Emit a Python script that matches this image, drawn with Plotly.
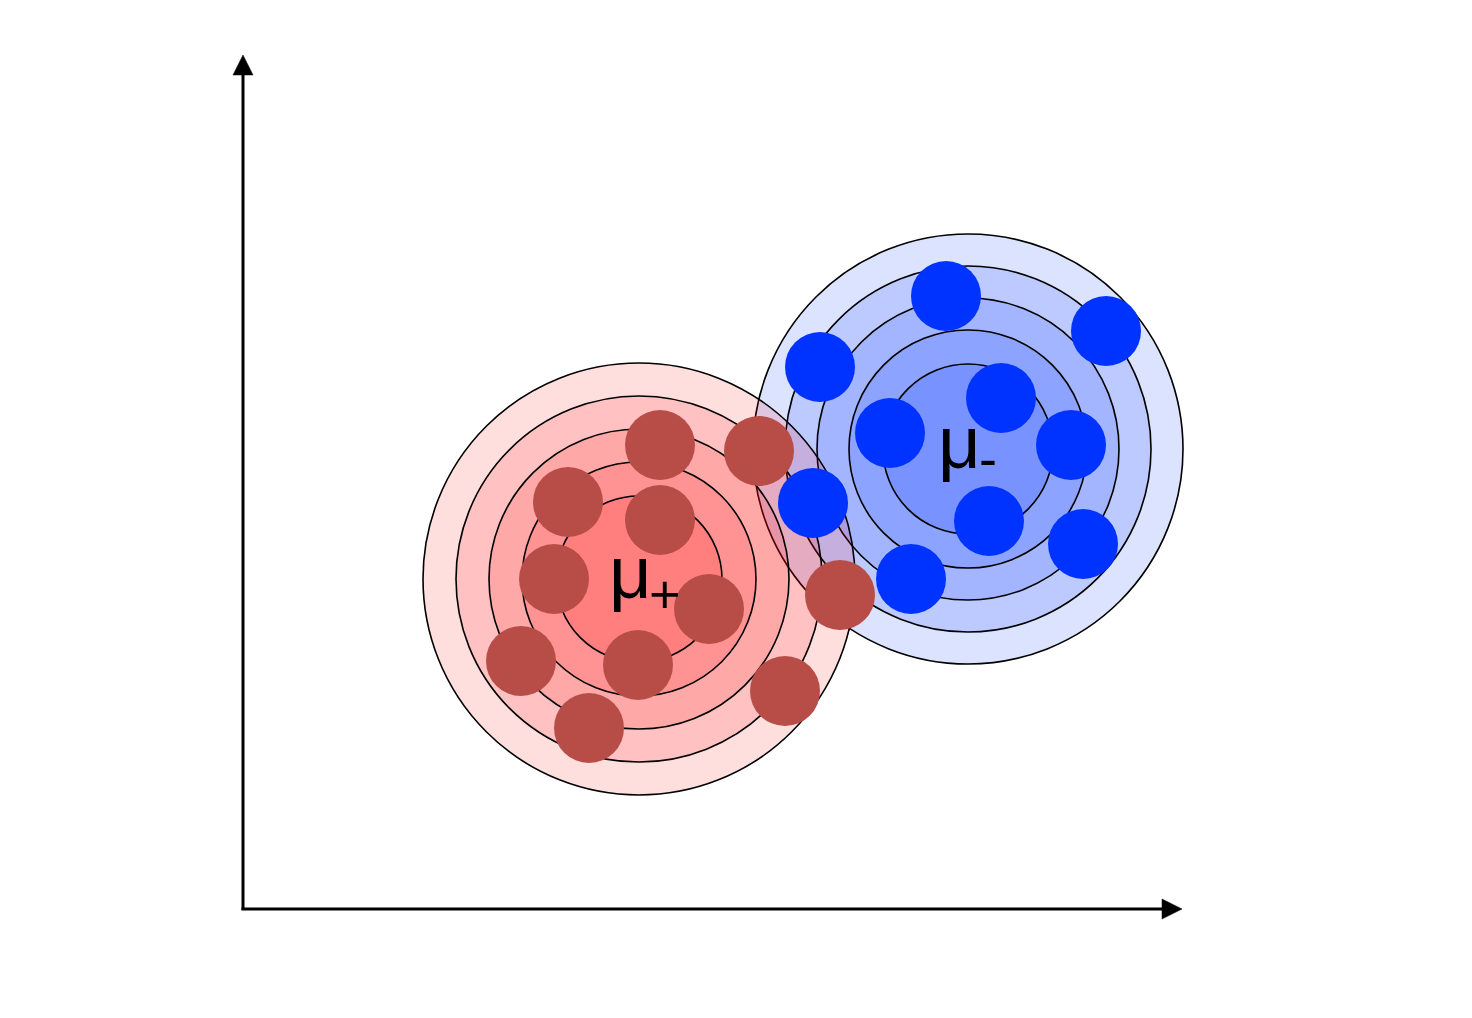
import plotly.graph_objects as go

# ---------------- data ----------------
# cluster centres (pixel-like coordinate space, y grows downward)
red_center = [639, 579]
blue_center = [968, 449]
# radii of concentric contour circles (outer -> inner)
red_radii = [216, 183, 150, 117, 83]
blue_radii = [215, 183, 151, 119, 85]

# sample points
red_x = [660, 568, 660, 554, 709, 521, 638, 589, 785, 759, 840]
red_y = [445, 502, 520, 579, 609, 661, 665, 728, 691, 451, 595]
blue_x = [946, 1106, 820, 1001, 890, 1071, 813, 989, 1083, 911]
blue_y = [296, 331, 367, 398, 433, 445, 503, 521, 544, 579]

# labels
label_main = ["μ", "μ"]
label_sub = ["+", "-"]

# axes (origin and arrow tips)
origin = [243, 909]
x_tip = 1182
y_tip = 55

# ---------------- figure ----------------
OFF = 8  # browser body margin
W, H = 1472 - 2 * OFF, 1018 - 2 * OFF

fig = go.Figure()

shapes = []
for center, radii, rgba in [
    (blue_center, blue_radii, "rgba(0,48,255,0.137)"),
    (red_center, red_radii, "rgba(255,0,0,0.13)"),
]:
    cx, cy = center
    for r in radii:
        shapes.append(dict(
            type="circle", xref="x", yref="y",
            x0=cx - r, x1=cx + r, y0=cy - r, y1=cy + r,
            fillcolor=rgba, line=dict(color="black", width=1.6),
            layer="below",
        ))

ox, oy = origin
head = 20
half = 10
shapes.append(dict(type="line", xref="x", yref="y", x0=ox, y0=oy + 1, x1=ox, y1=y_tip + head,
                   line=dict(color="black", width=3), layer="above"))
shapes.append(dict(type="line", xref="x", yref="y", x0=ox - 1.5, y0=oy, x1=x_tip - head, y1=oy,
                   line=dict(color="black", width=3), layer="above"))
shapes.append(dict(type="path", xref="x", yref="y",
                   path=f"M {ox - half} {y_tip + head} L {ox} {y_tip} L {ox + half} {y_tip + head} Z",
                   fillcolor="black", line=dict(color="black", width=0.5), layer="above"))
shapes.append(dict(type="path", xref="x", yref="y",
                   path=f"M {x_tip - head} {oy - half} L {x_tip} {oy} L {x_tip - head} {oy + half} Z",
                   fillcolor="black", line=dict(color="black", width=0.5), layer="above"))

fig.add_trace(go.Scatter(x=red_x, y=red_y, mode="markers",
                         marker=dict(size=70, color="#B84D48", line=dict(width=0)),
                         hoverinfo="skip", showlegend=False))
fig.add_trace(go.Scatter(x=blue_x, y=blue_y, mode="markers",
                         marker=dict(size=70, color="#0033FF", line=dict(width=0)),
                         hoverinfo="skip", showlegend=False))

font_main = dict(family="Liberation Sans, Arial, sans-serif", size=74, color="black")
font_sub = dict(family="Liberation Sans, Arial, sans-serif", size=54, color="black")
main_pos = [(630, 572), (959, 442)]
sub_pos = [(665, 594), (988, 458)]
annotations = []
for txt, (x, y) in zip(label_main, main_pos):
    annotations.append(dict(x=x, y=y, text=txt, font=font_main, showarrow=False,
                            xref="x", yref="y", xanchor="center", yanchor="middle"))
for txt, (x, y) in zip(label_sub, sub_pos):
    annotations.append(dict(x=x, y=y, text=txt, font=font_sub, showarrow=False,
                            xref="x", yref="y", xanchor="center", yanchor="middle"))

fig.update_layout(
    width=W, height=H,
    margin=dict(l=0, r=0, t=0, b=0),
    paper_bgcolor="white", plot_bgcolor="white",
    xaxis=dict(range=[OFF, OFF + W], visible=False, fixedrange=True),
    yaxis=dict(range=[OFF + H, OFF], visible=False, fixedrange=True),
    shapes=shapes,
    annotations=annotations,
    showlegend=False,
)

fig.write_html("out.html")
